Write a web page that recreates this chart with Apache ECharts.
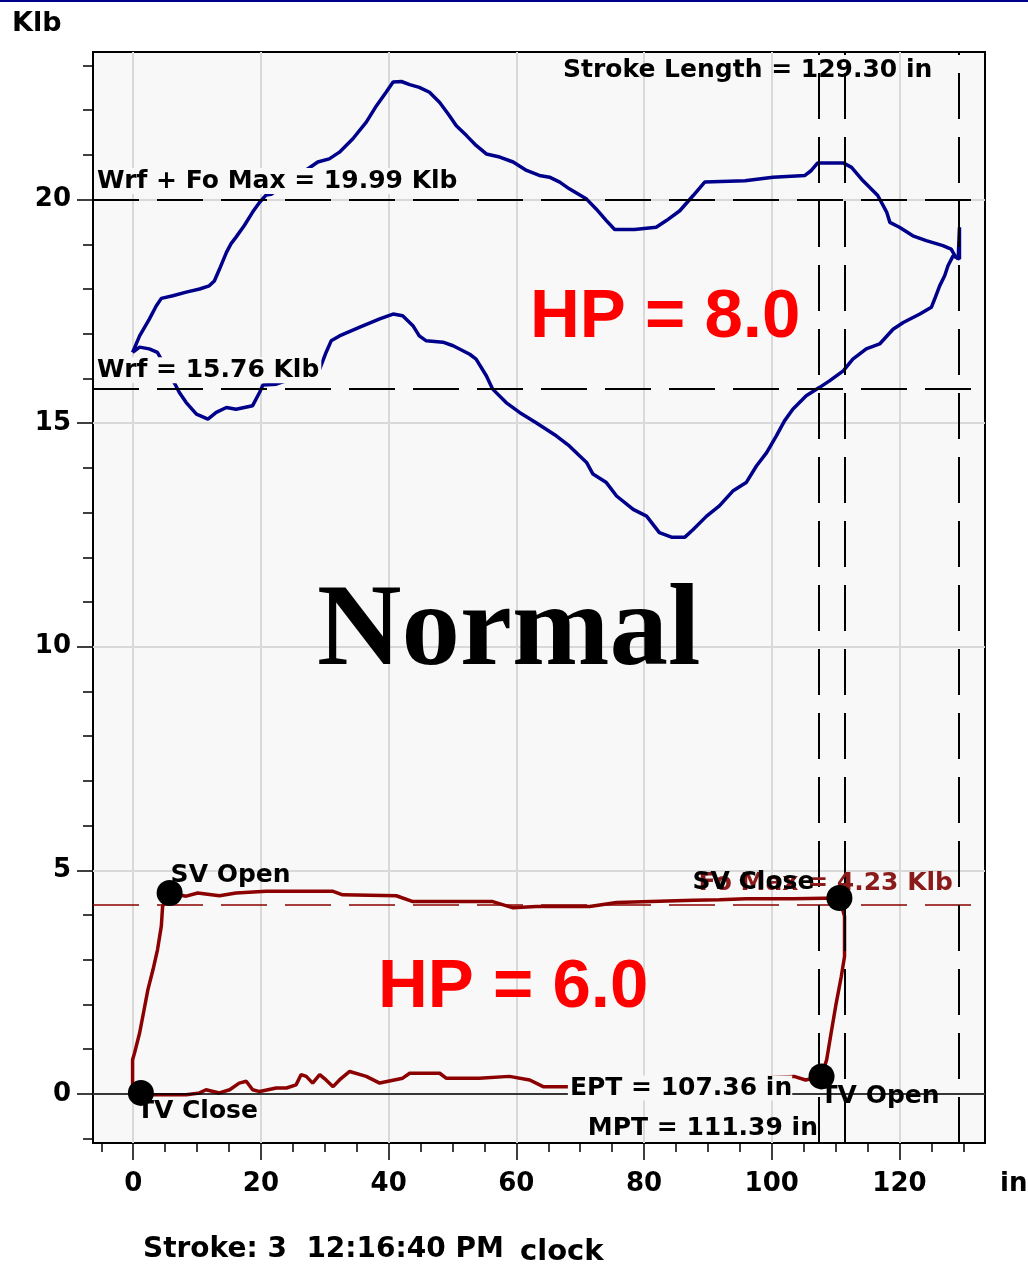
<!DOCTYPE html>
<html>
<head>
<meta charset="utf-8">
<script src="https://cdn.jsdelivr.net/npm/echarts@6.0.0/dist/echarts.min.js"></script>
<style>
  html, body { margin: 0; padding: 0; background: #ffffff; }
  #wrap { position: relative; width: 1028px; height: 1267px; }
  #chart { width: 1028px; height: 1267px; }
  #topline { position: absolute; left: 0; top: 0; width: 1028px; height: 2px; background: #00008b; z-index: 2; }
</style>
</head>
<body>
<div id="wrap">
  <div id="chart"></div>
  <div id="topline"></div>
</div>
<script>
// Dynamometer card, stroke 3: surface card (load vs. polished-rod position) and pump card.

// Surface card, upstroke then downstroke: [position (in), load (Klb)]
const surfaceUpstroke = [
  [-0.1,16.58],[1.0,16.95],[2.5,17.32],[3.6,17.62],[4.4,17.79],[6.2,17.85],[8.3,17.93],[10.4,18.00],
  [11.9,18.07],[12.7,18.18],[13.5,18.44],[14.6,18.82],[15.3,19.01],[16.1,19.16],[17.4,19.42],[18.7,19.72],
  [19.8,19.94],[20.8,20.10],[21.6,20.12],[28.9,20.84],[30.7,20.91],[32.3,21.06],[34.4,21.36],[36.5,21.73],
  [38.1,22.10],[39.6,22.40],[40.7,22.63],[42.0,22.64],[43.3,22.57],[44.8,22.51],[46.4,22.40],[48.0,22.17],
  [49.5,21.88],[50.6,21.65],[52.2,21.43],[53.7,21.21],[55.3,21.02],[57.4,20.95],[59.5,20.84],[61.6,20.65],
  [63.6,20.54],[65.2,20.50],[66.8,20.39],[68.3,20.24],[71.0,20.01],[72.5,19.79],[74.1,19.53],[75.4,19.33],
  [78.5,19.33],[81.9,19.38],[83.5,19.53],[85.6,19.75],[87.7,20.09],[89.5,20.39],[95.8,20.42],[100.2,20.50],
  [105.2,20.54],[106.2,20.65],[107.2,20.82],[111.2,20.82],[112.5,20.72],[114.3,20.42],[116.6,20.09],[118.0,19.72],
  [118.5,19.49],[120.0,19.38],[122.1,19.19],[124.2,19.08],[126.8,18.97],[128.1,18.89],[128.7,18.74],[129.2,18.67],
  [129.4,19.38],[129.4,18.67]
];
const surfaceDownstroke = [
  [128.4,18.74],[127.6,18.52],[127.1,18.30],[126.3,18.07],[125.5,17.77],[125.0,17.59],[123.2,17.44],[120.6,17.25],
  [119.0,17.10],[116.9,16.77],[114.8,16.66],[112.7,16.43],[111.2,16.17],[109.1,15.95],[107.5,15.80],[105.4,15.61],
  [103.3,15.31],[102.0,15.05],[100.7,14.71],[99.2,14.34],[97.6,14.04],[96.0,13.67],[93.9,13.48],[91.8,13.15],
  [89.8,12.92],[87.7,12.62],[86.4,12.45],[84.3,12.45],[82.4,12.55],[80.4,12.92],[78.3,13.07],[75.7,13.37],
  [74.1,13.67],[72.0,13.86],[71.0,14.12],[68.3,14.49],[66.3,14.71],[63.1,15.01],[60.5,15.24],[58.4,15.46],
  [56.3,15.76],[55.3,16.06],[53.7,16.43],[52.7,16.54],[50.1,16.73],[48.5,16.81],[45.9,16.84],[44.8,16.95],
  [43.8,17.18],[42.2,17.40],[40.7,17.44],[38.6,17.33],[35.4,17.14],[32.3,16.95],[31.0,16.84],[30.2,16.58],
  [29.2,16.21],[22.4,15.87],[20.3,15.85],[19.8,15.69],[18.7,15.39],[16.1,15.31],[14.6,15.35],[13.0,15.24],
  [11.7,15.09],[9.9,15.20],[8.3,15.46],[7.2,15.69],[6.7,15.83],[3.8,16.58],[2.5,16.66],[1.0,16.70],[-0.1,16.58]
];

// Pump card, upstroke then downstroke: [position (in), load (Klb)]
const pumpUpstroke = [
  [1.2,0.02],[-0.1,0.05],[-0.1,0.76],[0.2,0.91],[1.0,1.36],[1.7,1.88],[2.3,2.33],[3.1,2.78],[3.8,3.22],
  [4.4,3.75],[4.6,4.19],[5.7,4.49],[8.3,4.42],[10.1,4.49],[13.5,4.43],[16.1,4.49],[20.8,4.53],[31.3,4.53],
  [32.8,4.45],[41.2,4.43],[43.8,4.30],[56.3,4.30],[59.5,4.16],[63.1,4.19],[71.5,4.19],[75.7,4.28],[87.7,4.33],
  [91.8,4.34],[96.0,4.36],[103.3,4.36],[110.6,4.38]
];
const pumpDownstroke = [
  [111.4,3.97],[111.4,3.07],[110.9,2.63],[110.1,2.03],[109.3,1.36],[108.6,0.76],[107.8,0.39],[105.3,0.31],
  [103.5,0.39],[68.3,0.16],[64.2,0.16],[62.1,0.31],[58.9,0.39],[54.2,0.35],[49.0,0.35],[48.0,0.46],[43.3,0.46],
  [42.2,0.35],[38.6,0.24],[36.5,0.39],[33.9,0.50],[32.3,0.31],[31.3,0.16],[30.2,0.31],[29.2,0.43],[28.1,0.24],
  [27.1,0.39],[26.3,0.43],[25.5,0.20],[24.0,0.13],[22.4,0.13],[19.8,0.05],[18.7,0.09],[17.7,0.28],[16.6,0.24],
  [15.1,0.09],[13.5,0.02],[11.4,0.09],[10.4,0.02],[8.3,-0.02],[3.1,-0.02],[1.2,0.02]
];

// Valve events on the pump card
const valveNames = ['TV Close', 'SV Open', 'SV Close', 'TV Open'];
const valvePosition = [1.2, 5.7, 110.6, 107.8];
const valveLoad = [0.02, 4.49, 4.38, 0.39];

// Card reference values
const wrf = 15.76;           // Klb
const wrfFoMax = 19.99;      // Klb
const foMax = 4.23;          // Klb
const ept = 107.36;          // in
const mpt = 111.39;          // in
const strokeLength = 129.30; // in

// Axis ticks
const xMinorTicks = [-5,0,5,10,15,20,25,30,35,40,45,50,55,60,65,70,75,80,85,90,95,100,105,110,115,120,125,130];
const xMajorTicks = [0,20,40,60,80,100,120];
const yMinorTicks = [-1,0,1,2,3,4,5,6,7,8,9,10,11,12,13,14,15,16,17,18,19,20,21,22,23];
const yMajorTicks = [0,5,10,15,20];

const SANS = '"DejaVu Sans", Verdana, sans-serif';
const textFont = { fontFamily: SANS, fontWeight: 'bold', fontSize: 25, color: '#000' };
const tickFont = { fontFamily: SANS, fontWeight: 'bold', fontSize: 26, color: '#000' };
const plotBg = '#f8f8f8';
const dash = [46, 18];

const X_MIN = -6.3, X_MAX = 133.4, Y_MIN = -1.1, Y_MAX = 23.3;

// offsets of the valve-event labels relative to their dots: [dx, dy, align]
const valveLabelPlace = {
  'TV Close': [9, 32, 'left'],
  'SV Open':  [14, -5, 'left'],
  'SV Close': [-12, -2, 'right'],
  'TV Open':  [12, 33, 'left']
};

const chart = echarts.init(document.getElementById('chart'), null, { renderer: 'canvas' });

const tickLine = { color: '#000', width: 1.5 };

const option = {
  animation: false,
  backgroundColor: '#ffffff',
  grid: {
    left: 93, right: 43, top: 52, bottom: 124,
    show: true, backgroundColor: plotBg, borderColor: '#000', borderWidth: 2
  },
  xAxis: [
    {
      type: 'value', min: X_MIN, max: X_MAX, position: 'bottom',
      axisLine: { show: false, onZero: false },
      axisTick: { show: true, customValues: xMinorTicks, length: 9, lineStyle: tickLine },
      axisLabel: { show: false },
      splitLine: { show: false }
    },
    {
      type: 'value', min: X_MIN, max: X_MAX, position: 'bottom',
      axisLine: { show: false, onZero: false },
      axisTick: { show: true, customValues: xMajorTicks, length: 17, lineStyle: tickLine },
      axisLabel: Object.assign({ show: true, customValues: xMajorTicks, margin: 28 }, tickFont),
      splitLine: { show: true, lineStyle: { color: '#d9d9d9', width: 2 } }
    }
  ],
  yAxis: [
    {
      type: 'value', min: Y_MIN, max: Y_MAX, position: 'left',
      axisLine: { show: false, onZero: false },
      axisTick: { show: true, customValues: yMinorTicks, length: 10, lineStyle: tickLine },
      axisLabel: { show: false },
      splitLine: { show: false }
    },
    {
      type: 'value', min: Y_MIN, max: Y_MAX, position: 'left',
      axisLine: { show: false, onZero: false },
      axisTick: { show: true, customValues: yMajorTicks, length: 16, lineStyle: tickLine },
      axisLabel: Object.assign({ show: true, customValues: yMajorTicks, margin: 22 }, tickFont),
      splitLine: { show: true, lineStyle: { color: '#d9d9d9', width: 2 } }
    }
  ],
  series: [
    {
      name: 'Surface card', type: 'line', xAxisIndex: 0, yAxisIndex: 0,
      data: surfaceUpstroke.concat(surfaceDownstroke),
      symbol: 'none', showSymbol: false, smooth: false, z: 2,
      lineStyle: { color: '#00008b', width: 3.5 }
    },
    {
      name: 'Pump card', type: 'line', xAxisIndex: 0, yAxisIndex: 0,
      data: pumpUpstroke.concat(pumpDownstroke),
      symbol: 'none', showSymbol: false, smooth: false, z: 2,
      lineStyle: { color: '#8b0000', width: 3.5 }
    },
    {
      name: 'Reference lines', type: 'line', xAxisIndex: 0, yAxisIndex: 0, data: [],
      markLine: {
        silent: true, symbol: ['none', 'none'], animation: false, z: 5,
        label: { show: false },
        data: [
          {
            yAxis: wrfFoMax,
            lineStyle: { color: '#000', type: dash, width: 2 },
            label: Object.assign({
              show: true, position: 'insideStartTop', distance: [2, 6],
              formatter: 'Wrf + Fo Max = ' + wrfFoMax.toFixed(2) + ' Klb',
              backgroundColor: plotBg, padding: [1, 2, 0, 2]
            }, textFont)
          },
          {
            yAxis: wrf,
            lineStyle: { color: '#000', type: dash, width: 2 },
            label: Object.assign({
              show: true, position: 'insideStartTop', distance: [2, 6],
              formatter: 'Wrf = ' + wrf.toFixed(2) + ' Klb',
              backgroundColor: plotBg, padding: [1, 2, 0, 2]
            }, textFont)
          },
          {
            yAxis: foMax,
            lineStyle: { color: '#8b0000', type: dash, width: 1.5 },
            label: Object.assign({}, textFont, {
              show: true, position: 'insideEndTop', distance: [32, 9],
              formatter: 'Fo Max = ' + foMax.toFixed(2) + ' Klb',
              color: '#8b1a1a'
            })
          },
          { yAxis: 0, lineStyle: { color: '#000', type: 'solid', width: 1.5 } },
          { xAxis: ept, lineStyle: { color: '#000', type: dash, width: 2 } },
          { xAxis: mpt, lineStyle: { color: '#000', type: dash, width: 2 } },
          { xAxis: strokeLength, lineStyle: { color: '#000', type: dash, width: 2 } }
        ]
      }
    },
    {
      name: 'Valve events', type: 'scatter', xAxisIndex: 0, yAxisIndex: 0,
      symbol: 'circle', symbolSize: 26, z: 6, silent: true,
      itemStyle: { color: '#000', opacity: 1 },
      label: Object.assign({ show: true, formatter: '{b}', verticalAlign: 'middle', opacity: 1 }, textFont),
      data: valveNames.map(function (n, i) {
        const p = valveLabelPlace[n];
        return {
          name: n,
          value: [valvePosition[i], valveLoad[i]],
          label: { position: [p[0], p[1]], align: p[2], verticalAlign: 'middle' }
        };
      })
    },
    {
      name: 'Position values', type: 'scatter', xAxisIndex: 0, yAxisIndex: 0,
      symbol: 'circle', symbolSize: 1, z: 7, silent: true,
      itemStyle: { color: 'rgba(0,0,0,0)', opacity: 1 },
      label: Object.assign({ show: true, position: 'left', distance: 26, formatter: '{b}', opacity: 1 }, textFont),
      data: [
        { name: 'EPT = ' + ept.toFixed(2) + ' in', value: [ept, 0.13],
          label: { backgroundColor: plotBg, padding: [0, 0, 0, 2] } },
        { name: 'MPT = ' + mpt.toFixed(2) + ' in', value: [mpt, -0.78] },
        { name: 'Stroke Length = ' + strokeLength.toFixed(2) + ' in', value: [strokeLength, 22.88] }
      ]
    }
  ],
  graphic: [
    { type: 'text', x: 12, y: 24, z: 10,
      style: { text: 'Klb', font: 'bold 27px ' + SANS, fill: '#000', align: 'left', verticalAlign: 'middle' } },
    { type: 'text', x: 1000, y: 1184, z: 10,
      style: { text: 'in', font: 'bold 26px ' + SANS, fill: '#000', align: 'left', verticalAlign: 'middle' } },
    { type: 'text', x: 143, y: 1250, z: 10,
      style: { text: 'Stroke: 3  12:16:40 PM', font: 'bold 28px ' + SANS, fill: '#000', align: 'left', verticalAlign: 'middle' } },
    { type: 'text', x: 520, y: 1252, z: 10,
      style: { text: 'clock', font: 'bold 29px ' + SANS, fill: '#000', align: 'left', verticalAlign: 'middle' } },
    { type: 'text', x: 530, y: 318, z: 10,
      style: { text: 'HP = 8.0', font: 'bold 69px "Liberation Sans", Arial, sans-serif', fill: '#ff0000', align: 'left', verticalAlign: 'middle' } },
    { type: 'text', x: 378, y: 988, z: 10,
      style: { text: 'HP = 6.0', font: 'bold 69px "Liberation Sans", Arial, sans-serif', fill: '#ff0000', align: 'left', verticalAlign: 'middle' } },
    { type: 'text', x: 317, y: 634, z: 10,
      style: { text: 'Normal', font: 'bold 117px "Liberation Serif", "Times New Roman", serif', fill: '#000', align: 'left', verticalAlign: 'middle' } }
  ]
};

chart.setOption(option);
</script>
</body>
</html>
